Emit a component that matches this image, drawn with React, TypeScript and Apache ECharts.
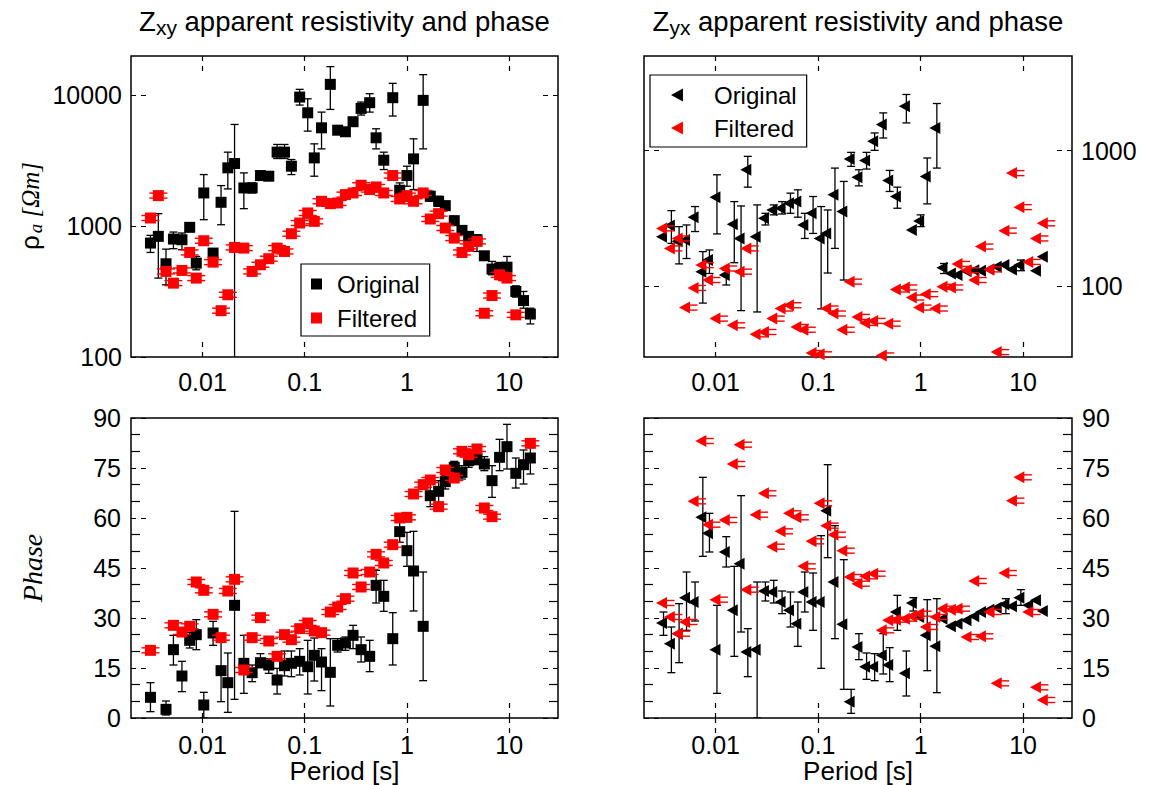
import React, { useEffect, useRef } from 'react';
import * as echarts from 'echarts';

// ---------------- data ----------------
const PERIODS = [
  0.0031, 0.0037, 0.0044, 0.0052, 0.0063, 0.0075, 0.0087, 0.0103, 0.0127, 0.0152,
  0.0177, 0.0206, 0.0254, 0.0306, 0.0369, 0.0445, 0.0537, 0.0634, 0.0741, 0.0893,
  0.107, 0.124, 0.146, 0.178, 0.21, 0.25, 0.297, 0.356, 0.432, 0.499,
  0.593, 0.726, 0.849, 1.0, 1.16, 1.44, 1.69, 2.04, 2.37, 2.9,
  3.45, 4.01, 4.84, 5.71, 6.79, 8.05, 9.51, 11.6, 13.8, 16.1,
];

const N = null;

const PERIOD_TICKS = [0.01, 0.1, 1, 10];
const XY_RHO_TICKS = [100, 1000, 10000];
const YX_RHO_TICKS = [100, 1000];

// Zxy apparent resistivity
const XY_RHO_ORIG = [
  743, 836, 516, 797, 788, 980, 522, 1795, 623, 1523,
  2793, 3013, 1961, 1961, 2438, 2410, 3680, 3680, 2873, 9710,
  7360, 3327, 5650, 12140, 5420, 5270, 6290, 7950, 8790, 4740,
  3194, 9600, 1883, 2438, 3270, 9160, 1693, 1550, 1435, 1102,
  929, 836, 788, 594, 470, 478, 486, 317, 270, 213,
];
const XY_RHO_ORIG_LO = [
  630, 401, 356, 673, 661, 913, 464, 1121, 564, 1026,
  1927, 50, 1361, 1795, 2270, 2245, 3290, 3290, 2481, 8430,
  5330, 2410, 3900, 7810, 5025, 4880, 5820, 7070, 7450, 3900,
  2710, 6950, 1673, 2020, 1905, 3900, 1550, 1419, 1322, 1015,
  861, 779, 641, 560, 425, 432, 389, 287, 236, 179,
];
const XY_RHO_ORIG_HI = [
  851, 1247, 668, 902, 887, 1057, 587, 2481, 668, 2043,
  3680, 5995, 2555, 2142, 2632, 2585, 4215, 4215, 3233, 11120,
  9420, 4260, 7450, 16590, 5820, 5650, 6745, 8890, 10300, 5555,
  3680, 12360, 2142, 2874, 4655, 14400, 1849, 1693, 1550, 1190,
  997, 897, 861, 630, 538, 528, 587, 350, 317, 236,
];
const XY_RHO_FILT = [
  1155, 1713, 451, 367, 459, 630, 401, 774, 531, 226,
  299, 688, 680, 451, 507, 564, 680, 641, 876, 1057,
  1262, 1089, 1550, 1487, 1505, 1743, 1795, 2056, 1905, 1995,
  1795, 2438, 1615, 1713, 1550, 1795, 1135, 1247, 968, 811,
  630, 701, 765, 216, 295, 425, 401, 210, N, N,
];

// Zyx apparent resistivity
const YX_RHO_ORIG = [
  232, 280, 215, 219, 323, 128, 156, 454, 121, 286,
  225, 723, 232, 317, 365, 376, 410, 421, 283, 345,
  225, 245, 472, 355, 867, 638, 848, 1173, 1559, 603,
  459, 2129, 260, 303, 645, 1472, 137, 124, 121, 129,
  131, 130, 133, 139, 143, 133, 143, N, 130, 165,
];
const YX_RHO_ORIG_LO = [
  N, 207, 146, 160, 253, 75, 124, 243, 102, 149,
  66, 538, 64.5, 283, 336, 341, 345, 323, 225, 245,
  68, 125, 190, 111, 766, 550, 732, 1006, 1241, 500,
  376, 1603, N, 275, 405, 744, 124, N, N, N,
  N, N, N, N, N, N, 130, N, N, N,
];
const YX_RHO_ORIG_HI = [
  N, 361, 275, 283, 387, 180, 185, 664, 131, 421,
  391, 908, 398, 345, 398, 421, 486, 514, 345, 459,
  387, 365, 744, 593, 972, 723, 972, 1352, 1901, 715,
  538, 2600, N, 336, 883, 2230, 147, N, N, N,
  N, N, N, N, N, N, 156, N, N, N,
];
const YX_RHO_FILT = [
  267, 190, 225, 69.5, 97, 143, 111, 57.6, 135, 51.4,
  128, 190, 44.1, 45.9, 57.6, 68.4, 72.3, 50.0, 47.7, 32.1,
  31.4, 68.4, 62.8, 47.7, 108, 59.3, 53.5, 55.4, 30.8, 52.9,
  94.5, 97.8, 82.4, 69.5, 87.3, 68.4, 98.9, 97.8, 146, 131,
  111, 196, 133, 32.6, 257, 683, 383, 151, 225, 291,
];

// Zxy phase
const XY_PH_ORIG = [
  6.2, N, 2.6, 20.5, 12.6, 23.3, 25.0, 3.9, 25.5, 14.2,
  10.6, 33.8, 16.4, 13.6, 16.6, 15.9, 11.4, 15.7, 16.4, 17.0,
  15.4, 18.8, 16.8, 13.7, 21.8, 22.5, 24.8, 20.5, 18.5, 39.8,
  36.5, 23.8, 55.9, 50.2, 44.1, 27.5, 66.7, 68.0, 70.9, 75.2,
  73.7, 77.2, 77.7, 76.2, 71.2, 78.2, 81.4, 73.4, 76.0, 78.0,
];
const XY_PH_ORIG_LO = [
  1.9, N, 0.9, 15.9, 7.9, 21.0, 20.5, 0, 21.8, 4.9,
  1.7, 5.6, 7.4, 10.9, 15.1, 13.4, 7.2, 12.6, 12.4, 12.9,
  7.2, 11.1, 8.2, 3.6, 19.8, 20.3, 20.8, 16.8, 13.9, 34.5,
  32.0, 15.9, 52.7, 45.5, 32.1, 11.2, 63.4, 64.7, 68.7, 73.7,
  71.7, 75.2, 76.0, 74.2, 66.2, 74.2, 74.7, 69.0, 70.2, 73.2,
];
const XY_PH_ORIG_HI = [
  10.6, N, 5.1, 24.8, 17.0, 25.6, 29.5, 7.7, 29.0, 24.8,
  19.5, 62.0, 24.8, 15.9, 19.3, 17.8, 14.9, 20.1, 20.1, 20.8,
  23.3, 24.0, 20.8, 23.8, 23.8, 24.3, 27.8, 24.3, 23.3, 44.3,
  41.3, 31.6, 59.2, 55.7, 56.0, 43.8, 70.2, 71.2, 72.7, 77.0,
  75.7, 79.2, 79.4, 78.4, 75.7, 83.6, 88.1, 78.0, 80.4, 81.7,
];
const XY_PH_FILT = [
  20.3, N, N, 27.8, 25.8, 27.5, 40.8, 38.3, 31.1, 24.1,
  38.1, 41.6, 14.4, 24.1, 30.1, 23.1, 18.5, 25.0, 23.5, 26.8,
  28.5, 26.1, 25.6, 31.8, 33.3, 35.8, 43.5, 39.3, 43.8, 49.1,
  46.5, 52.0, 60.0, 60.2, 67.2, 70.0, 71.4, 63.4, 74.4, 72.0,
  80.0, 79.0, 80.7, 63.0, 60.4, N, N, N, N, 82.4,
];

// Zyx phase
const YX_PH_ORIG = [
  28.5, 22.3, 25.3, 36.1, 34.8, 60.2, 55.4, 20.5, 49.8, 32.3,
  46.3, 19.8, 20.5, 38.1, 37.8, 34.8, 32.3, 28.3, 37.8, 34.8,
  34.8, 62.2, 40.8, 28.1, 4.9, 21.3, 15.4, 15.4, 18.8, 15.9,
  31.8, 13.4, 34.5, 30.3, 24.8, 21.5, 29.8, 27.5, 28.3, 29.3,
  30.5, 31.8, 32.5, 33.1, 34.1, 33.5, 36.1, 33.8, 35.3, 32.1,
];
const YX_PH_ORIG_LO = [
  24.8, 13.6, 16.6, 26.3, 29.1, 48.5, 49.8, 7.4, 45.3, 18.5,
  25.8, 12.4, 0, 35.1, 34.5, 31.3, 27.3, 21.5, 31.8, 26.3,
  14.9, 48.1, 23.8, 8.6, 1.4, 17.5, 11.6, 11.2, 13.2, 10.9,
  26.3, 6.6, 32.1, N, 14.2, 7.6, N, N, N, N,
  N, N, N, N, 31.3, N, 33.8, N, N, N,
];
const YX_PH_ORIG_HI = [
  31.8, 27.3, 34.3, 43.8, 40.8, 72.2, 61.4, 33.8, 54.4, 45.5,
  66.7, 26.8, 40.8, 40.8, 41.3, 38.1, 37.8, 34.8, 43.8, 43.5,
  54.7, 76.0, 57.7, 47.5, 8.6, 25.3, 19.5, 19.3, 25.3, 21.1,
  36.8, 20.1, 36.1, N, 35.5, 35.8, N, N, N, N,
  N, N, N, N, 35.8, N, 38.5, N, N, N,
];
const YX_PH_FILT = [
  34.5, 30.3, 25.3, 28.8, 65.0, 83.1, 58.0, 35.5, 59.4, 76.2,
  82.0, 38.5, 61.0, 67.4, 51.4, 56.0, 61.4, 60.2, 45.5, 53.0,
  64.4, 57.7, 55.0, 50.2, 42.3, 40.3, 42.5, 43.3, 26.3, 29.3,
  29.5, 29.8, 30.5, 31.3, 27.3, 30.3, 32.8, 32.5, 32.8, 24.3,
  41.1, 24.5, 31.8, 10.4, 43.5, 65.2, 72.2, 31.8, 9.2, 5.4,
];

const TITLE_XY = '{n|Z}{s|xy}{n| apparent resistivity and phase}';
const TITLE_YX = '{n|Z}{s|yx}{n| apparent resistivity and phase}';
const PERIOD_NAME = 'Period [s]';
const LEGEND_NAMES = ['Original', 'Filtered'];

// ---------------- helpers ----------------
const FONT = "'Liberation Sans', Arial, Helvetica, sans-serif";
const SERIF = "'Liberation Serif', 'Times New Roman', serif";
const TRI = 'path://M0,6 L11,0 L11,12 Z';

const pts = (vals: (number | null)[]) =>
  PERIODS.map((p, i) => (vals[i] == null ? null : [p, vals[i]])).filter(Boolean) as number[][];
const bars = (lo: (number | null)[], hi: (number | null)[]) =>
  PERIODS.map((p, i) => (lo[i] == null || hi[i] == null ? null : [p, lo[i], hi[i]])).filter(Boolean) as number[][];

const decadeLabel = (v: number) => {
  const l = Math.log10(v);
  return Math.abs(l - Math.round(l)) < 1e-6 ? String(Number(v.toPrecision(1))) : '';
};

const majorTick = (vals?: number[]) => ({
  show: true, inside: true, length: 15,
  ...(vals ? { customValues: vals } : {}),
  lineStyle: { color: '#000', width: 1.2, type: [5, 5] as any },
});

const mkX = (grid: number, pos: 'bottom' | 'top', labels: boolean, margin: number, name?: string) => ({
  type: 'log', logBase: 10, gridIndex: grid, position: pos, min: 0.002, max: 30,
  axisLine: { show: false }, splitLine: { show: false }, minorTick: { show: false },
  axisTick: majorTick(PERIOD_TICKS),
  axisLabel: {
    show: labels, customValues: PERIOD_TICKS, formatter: decadeLabel,
    fontSize: 25, color: '#000', fontFamily: FONT, margin,
  },
  name: name || '', nameLocation: 'middle', nameGap: 39,
  nameTextStyle: { fontSize: 26, color: '#000', fontFamily: FONT },
});

const mkYLog = (grid: number, pos: 'left' | 'right', labels: boolean, min: number, max: number, ticks: number[]) => ({
  type: 'log', logBase: 10, gridIndex: grid, position: pos, min, max,
  axisLine: { show: false }, splitLine: { show: false }, minorTick: { show: false },
  axisTick: majorTick(ticks),
  axisLabel: {
    show: labels, customValues: ticks, formatter: decadeLabel,
    fontSize: 25, color: '#000', fontFamily: FONT, margin: 9,
  },
});

const mkYPhase = (grid: number, pos: 'left' | 'right', labels: boolean) => ({
  type: 'value', gridIndex: grid, position: pos, min: 0, max: 90, interval: 15,
  axisLine: { show: false }, splitLine: { show: false },
  axisTick: majorTick(),
  minorTick: { show: true, splitNumber: 3, length: 9, lineStyle: { color: '#000', width: 1.2 } },
  axisLabel: { show: labels, fontSize: 25, color: '#000', fontFamily: FONT, margin: 10 },
});

const errorBarItem = (params: any, api: any) => {
  const x = api.value(0);
  const pLo = api.coord([x, api.value(1)]);
  const pHi = api.coord([x, api.value(2)]);
  const st = { stroke: '#000', lineWidth: 1.3 };
  const c = 4;
  return {
    type: 'group',
    children: [
      { type: 'line', shape: { x1: pLo[0], y1: pLo[1], x2: pHi[0], y2: pHi[1] }, style: st },
      { type: 'line', shape: { x1: pLo[0] - c, y1: pLo[1], x2: pLo[0] + c, y2: pLo[1] }, style: st },
      { type: 'line', shape: { x1: pHi[0] - c, y1: pHi[1], x2: pHi[0] + c, y2: pHi[1] }, style: st },
    ],
  };
};

const capItem = (a: number, b: number) => (params: any, api: any) => {
  const p = api.coord([api.value(0), api.value(1)]);
  const st = { stroke: '#ff0000', lineWidth: 1.4 };
  return {
    type: 'group',
    children: [
      { type: 'line', shape: { x1: p[0] + a, y1: p[1] - 2.5, x2: p[0] + b, y2: p[1] - 2.5 }, style: st },
      { type: 'line', shape: { x1: p[0] + a, y1: p[1] + 2.5, x2: p[0] + b, y2: p[1] + 2.5 }, style: st },
    ],
  };
};

const panelSeries = (
  g: number, orig: any[], lo: any[], hi: any[], filt: any[], tri: boolean,
) => {
  const ax = { xAxisIndex: 2 * g, yAxisIndex: 2 * g };
  const sym = tri
    ? { symbol: TRI, symbolSize: [11, 12], symbolOffset: [-2, 0] }
    : { symbol: 'rect', symbolSize: 11 };
  return [
    {
      type: 'custom', name: 'Original error', ...ax, coordinateSystem: 'cartesian2d',
      renderItem: errorBarItem, data: bars(lo, hi), encode: { x: 0, y: [1, 2] }, clip: true, silent: true, z: 2,
    },
    {
      type: 'scatter', name: 'Original', ...ax, ...sym, data: pts(orig),
      itemStyle: { color: '#000', opacity: 1 }, silent: true, z: 3,
    },
    {
      type: 'custom', name: 'Filtered error', ...ax, coordinateSystem: 'cartesian2d',
      renderItem: tri ? capItem(0, 11) : capItem(-9, 9), data: pts(filt), encode: { x: 0, y: 1 },
      clip: true, silent: true, z: 4,
    },
    {
      type: 'scatter', name: 'Filtered', ...ax, ...sym, data: pts(filt),
      itemStyle: { color: '#ff0000', opacity: 1 }, silent: true, z: 5,
    },
  ];
};

const gridStyle = { show: true, borderColor: '#000', borderWidth: 1.5, backgroundColor: 'transparent', containLabel: false, outerBoundsMode: 'none' };

const titleRich = {
  n: { fontSize: 27.5, fontFamily: FONT, fill: '#000' },
  s: { fontSize: 21, fontFamily: FONT, fill: '#000', padding: [12, 0, 0, 0] },
};

const option: any = {
  animation: false,
  backgroundColor: '#fff',
  grid: [
    { ...gridStyle, left: 131, top: 56, width: 427, height: 301 },
    { ...gridStyle, left: 644, top: 56, width: 428, height: 301 },
    { ...gridStyle, left: 131, top: 418, width: 427, height: 300 },
    { ...gridStyle, left: 644, top: 418, width: 428, height: 300 },
  ],
  xAxis: [
    mkX(0, 'bottom', true, 12), mkX(0, 'top', false, 8),
    mkX(1, 'bottom', true, 12), mkX(1, 'top', false, 8),
    mkX(2, 'bottom', true, 14, PERIOD_NAME), mkX(2, 'top', false, 8),
    mkX(3, 'bottom', true, 14, PERIOD_NAME), mkX(3, 'top', false, 8),
  ],
  yAxis: [
    mkYLog(0, 'left', true, 100, 20000, XY_RHO_TICKS), mkYLog(0, 'right', false, 100, 20000, XY_RHO_TICKS),
    mkYLog(1, 'right', true, 30, 5000, YX_RHO_TICKS), mkYLog(1, 'left', false, 30, 5000, YX_RHO_TICKS),
    mkYPhase(2, 'left', true), mkYPhase(2, 'right', false),
    mkYPhase(3, 'right', true), mkYPhase(3, 'left', false),
  ],
  legend: [
    {
      left: 301, top: 264, orient: 'vertical', selectedMode: false,
      data: LEGEND_NAMES.map((n) => ({ name: n, icon: 'rect' })),
      itemWidth: 11, itemHeight: 11, itemGap: 10, padding: [8, 10, 6, 10],
      borderColor: '#000', borderWidth: 1.2, backgroundColor: '#fff',
      textStyle: { fontSize: 24, lineHeight: 24, color: '#000', fontFamily: FONT, padding: [0, 0, 0, 10] },
    },
    {
      left: 650, top: 75, orient: 'vertical', selectedMode: false,
      data: LEGEND_NAMES.map((n) => ({ name: n, icon: TRI })),
      itemWidth: 12, itemHeight: 13, itemGap: 9, padding: [8, 10, 7, 21],
      borderColor: '#000', borderWidth: 1.2, backgroundColor: '#fff',
      textStyle: { fontSize: 24, lineHeight: 24, color: '#000', fontFamily: FONT, padding: [0, 0, 0, 26] },
    },
  ],
  graphic: [
    {
      type: 'text', x: 344.5, y: 21, silent: true,
      style: { text: TITLE_XY, rich: titleRich, align: 'center', verticalAlign: 'middle', textAlign: 'center', textVerticalAlign: 'middle' },
    },
    {
      type: 'text', x: 858, y: 21, silent: true,
      style: { text: TITLE_YX, rich: titleRich, align: 'center', verticalAlign: 'middle', textAlign: 'center', textVerticalAlign: 'middle' },
    },
    {
      type: 'text', x: 30, y: 206, rotation: Math.PI / 2, silent: true,
      style: {
        text: '{r|ρ}{a|a}{u| [Ωm]}',
        rich: {
          r: { fontSize: 26, fontFamily: FONT, fill: '#000' },
          a: { fontSize: 19, fontFamily: SERIF, fontStyle: 'italic', fill: '#000', padding: [11, 0, 0, 2] },
          u: { fontSize: 25, fontFamily: SERIF, fontStyle: 'italic', fill: '#000' },
        },
        align: 'center', verticalAlign: 'middle', textAlign: 'center', textVerticalAlign: 'middle',
      },
    },
    {
      type: 'text', x: 32, y: 568, rotation: Math.PI / 2, silent: true,
      style: {
        text: 'Phase', fill: '#000', font: `italic 28px ${SERIF}`,
        align: 'center', verticalAlign: 'middle', textAlign: 'center', textVerticalAlign: 'middle',
      },
    },
  ],
  series: [
    ...panelSeries(0, XY_RHO_ORIG, XY_RHO_ORIG_LO, XY_RHO_ORIG_HI, XY_RHO_FILT, false),
    ...panelSeries(1, YX_RHO_ORIG, YX_RHO_ORIG_LO, YX_RHO_ORIG_HI, YX_RHO_FILT, true),
    ...panelSeries(2, XY_PH_ORIG, XY_PH_ORIG_LO, XY_PH_ORIG_HI, XY_PH_FILT, false),
    ...panelSeries(3, YX_PH_ORIG, YX_PH_ORIG_LO, YX_PH_ORIG_HI, YX_PH_FILT, true),
  ],
};

export default function App() {
  const ref = useRef<HTMLDivElement>(null);
  useEffect(() => {
    if (!ref.current) return;
    const chart = echarts.init(ref.current, null, { renderer: 'svg' });
    chart.setOption(option);
    return () => chart.dispose();
  }, []);
  return (
    <div
      ref={ref}
      style={{ position: 'absolute', left: 0, top: 0, width: 1155, height: 785, background: '#fff' }}
    />
  );
}
